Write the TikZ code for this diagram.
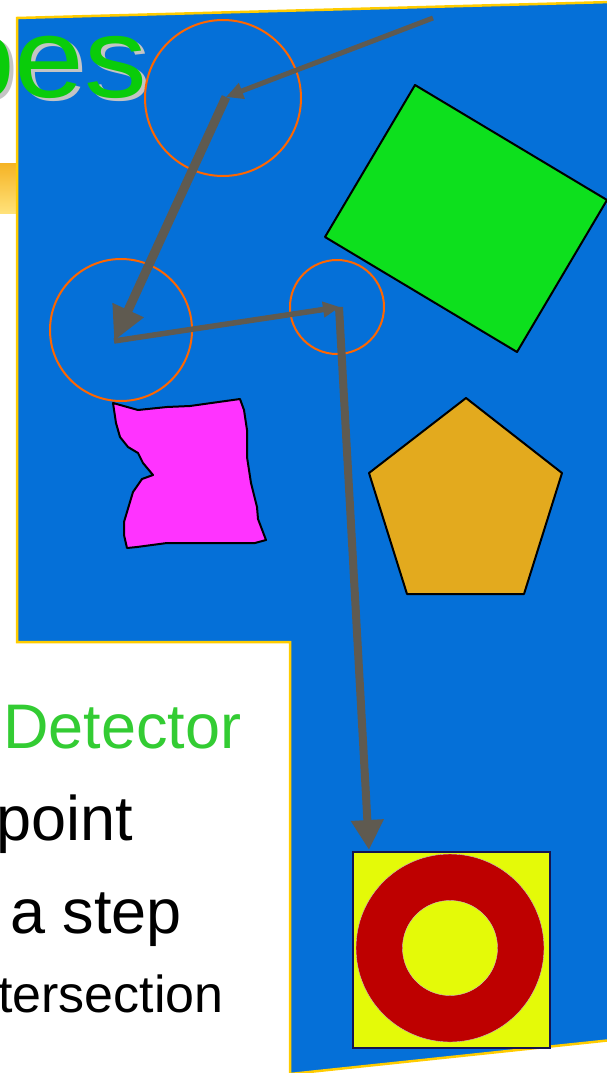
\documentclass[tikz,border=0pt]{standalone}
\usepackage{fontspec}
\setmainfont{Liberation Sans}
\usetikzlibrary{arrows.meta}
\definecolor{panelBlue}{HTML}{0570D8}
\definecolor{panelEdge}{HTML}{FFCC00}
\definecolor{barGold}{HTML}{F5B324}
\definecolor{barLight}{HTML}{FFE27A}
\definecolor{ringOrange}{HTML}{FF6600}
\definecolor{pathGray}{HTML}{5F5A50}
\definecolor{titleGreen}{HTML}{0ACC0A}
\definecolor{shadowGray}{HTML}{C4C4C4}
\definecolor{labelGreen}{HTML}{33CC33}
\definecolor{rectGreen}{HTML}{0DE01D}
\definecolor{blobPink}{HTML}{FF33FF}
\definecolor{pentGold}{HTML}{E3AA1E}
\definecolor{targetYellow}{HTML}{E4FA08}
\definecolor{targetRed}{HTML}{BE0000}
\definecolor{targetEdge}{HTML}{141450}

\begin{document}
\begin{tikzpicture}[
    x=1pt, y=-1pt,
    panel/.style={fill=panelBlue, draw=panelEdge, line width=2.5pt, line join=miter},
    probe/.style={draw=ringOrange, line width=2pt},
    shapebox/.style={draw=black, line width=2pt, line join=round},
    walk/.style={draw=pathGray, line cap=butt},
    title/.style={anchor=base west, inner sep=0pt, xscale=1.1, font=\fontsize{114}{114}\selectfont},
    bullet/.style={anchor=base west, inner sep=0pt, font=\fontsize{63}{63}\selectfont},
]
    \useasboundingbox (0,0) rectangle (607,1073);

    % Slide background: blue panel and title bar
    \fill[top color=barGold, bottom color=barLight] (0,163) rectangle (17,213);
    \filldraw[panel] (17,18) -- (612,2) -- (612,1040) -- (290,1074) -- (290,642) -- (17,642) -- cycle;

    % Title
    \node[title, text=shadowGray] (titleshadow) at (-51,100) {pes};
    \node[title, text=titleGreen] (title) at (-55,97) {pes};

    % Text lines
    \node[bullet, text=labelGreen] (detector) at (3,748) {Detector};
    \node[bullet] (point) at (-4,840) {point};
    \node[bullet] (astep) at (10,933) {a step};
    \node[bullet, font=\fontsize{52}{52}\selectfont] (tersection) at (-2,1012) {tersection};

    % Probe circles
    \draw[probe] (223,98) circle[radius=78];
    \draw[probe] (121,330) circle[radius=71];
    \draw[probe] (337,307) circle[radius=47];

    % Shapes
    \filldraw[shapebox, fill=rectGreen] (415,85) -- (607,200) -- (517,352) -- (325,237) -- cycle;
    \filldraw[shapebox, fill=pentGold] (466,398) -- (562,473) -- (524,594) -- (407,594) -- (369,473) -- cycle;
    \filldraw[shapebox, fill=blobPink] (113,403) -- (138,410) -- (167,407) -- (190,406) -- (240,399)
        -- (244,410) -- (247,430) -- (247,457) -- (251,483) -- (257,507) -- (258,519) -- (266,540)
        -- (255,543) -- (167,543) -- (137,547) -- (127,548) -- (124,535) -- (124,522) -- (133,492)
        -- (142,479) -- (153,475) -- (143,463) -- (138,453) -- (128,447) -- (120,437) -- (116,423) -- cycle;

    % Target
    \filldraw[fill=targetYellow, draw=targetEdge, line width=2pt] (353,852) rectangle (550,1048);
    \filldraw[fill=targetRed, draw=shadowGray, line width=0.4pt] (450,948) circle[radius=94];
    \filldraw[fill=targetYellow, draw=shadowGray, line width=0.4pt] (450,948) circle[radius=47.5];

    % Search path
    \coordinate (start) at (433,18);
    \coordinate (step1) at (226,97);
    \coordinate (step2) at (114,341);
    \coordinate (step3) at (340,307);
    \coordinate (turn) at (339,307);
    \coordinate (goal) at (369,850);
    \draw[walk, line width=5pt, -{Triangle[length=17pt, width=16pt]}] (start) -- (step1);
    \draw[walk, line width=9pt, -{Triangle[length=34pt, width=32pt]}] (step1) -- (step2);
    \draw[walk, line width=5.5pt, -{Triangle[length=17pt, width=15pt]}] (step2) -- (step3);
    \draw[walk, line width=8pt, -{Triangle[length=30pt, width=31pt]}] (turn) -- (goal);
\end{tikzpicture}
\end{document}
